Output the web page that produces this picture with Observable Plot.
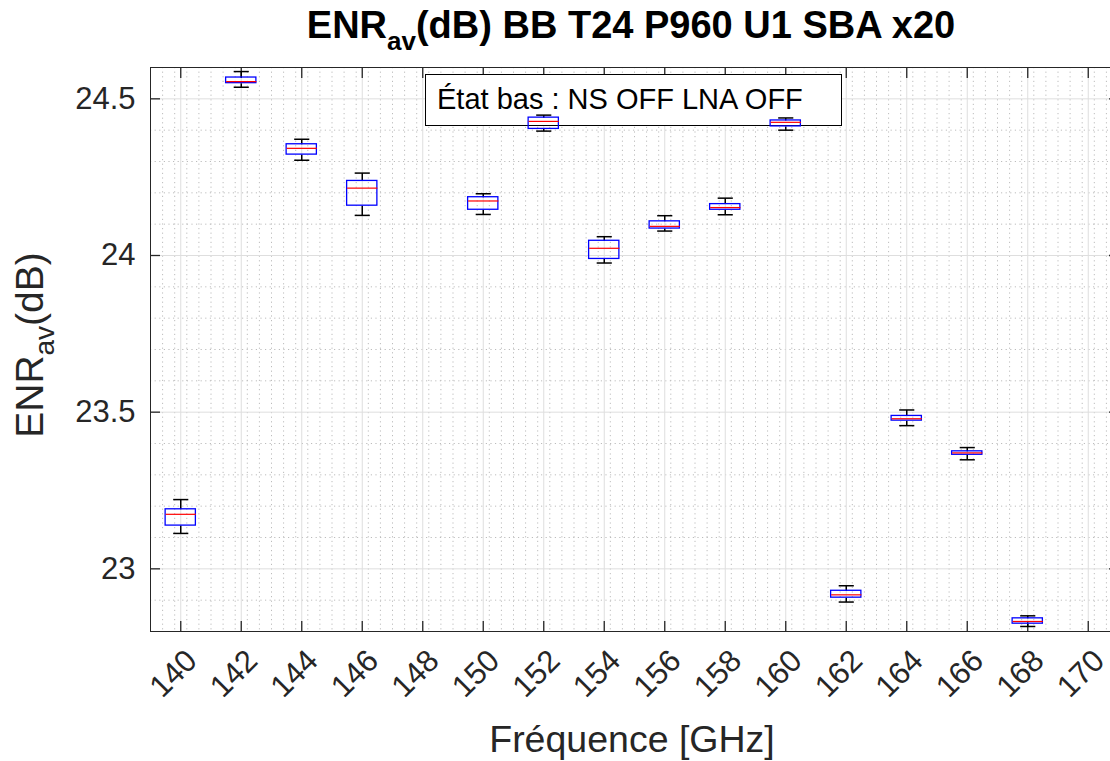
<!DOCTYPE html>
<html>
<head>
<meta charset="utf-8">
<script src="https://cdn.jsdelivr.net/npm/d3@7"></script>
<script src="https://cdn.jsdelivr.net/npm/@observablehq/plot@0.6"></script>
<style>
  html, body { margin: 0; padding: 0; background: #fff; }
  #wrap { position: relative; width: 1110px; height: 761px; overflow: hidden; }
  #wrap svg { max-width: none !important; }
</style>
</head>
<body>
<div id="wrap"></div>
<script>
// ---- data ----
const freq    = [140, 142, 144, 146, 150, 152, 154, 156, 158, 160, 162, 164, 166, 168];
const whiskLo = [23.113, 24.537, 24.304, 24.128, 24.131, 24.397, 23.976, 24.078, 24.130, 24.400, 22.894, 23.457, 23.348, 22.816];
const q1      = [23.138, 24.550, 24.322, 24.159, 24.146, 24.404, 23.989, 24.086, 24.146, 24.412, 22.908, 23.473, 23.364, 22.825];
const median  = [23.174, 24.555, 24.342, 24.215, 24.174, 24.428, 24.023, 24.093, 24.153, 24.425, 22.917, 23.479, 23.370, 22.832];
const q3      = [23.190, 24.568, 24.355, 24.238, 24.186, 24.440, 24.047, 24.109, 24.164, 24.431, 22.930, 23.488, 23.375, 22.842];
const whiskHi = [23.221, 24.587, 24.371, 24.263, 24.197, 24.448, 24.060, 24.127, 24.183, 24.439, 22.946, 23.507, 23.387, 22.850];

const xTicks = [140, 142, 144, 146, 148, 150, 152, 154, 156, 158, 160, 162, 164, 166, 168, 170];
const yTicks = [23, 23.5, 24, 24.5];
const xMinor = d3.range(1, 80).map(i => +(139 + i * 0.4).toFixed(1)).filter(v => v % 2 !== 0);
const yMinor = d3.range(1, 18).map(i => +(22.8 + i * 0.1).toFixed(1)).filter(v => Math.round(v * 10) % 5 !== 0);

const titleMain = "ENR", titleSub = "av", titleRest = "(dB) BB T24 P960 U1 SBA x20";
const yLabelMain = "ENR", yLabelSub = "av", yLabelRest = "(dB)";
const xLabel = "Fréquence [GHz]";
const annotation = "État bas : NS OFF LNA OFF";

const data = freq.map((f, i) => ({f, lo: whiskLo[i], q1: q1[i], med: median[i], q3: q3[i], hi: whiskHi[i]}));

const FONT = '"Liberation Sans", Arial, Helvetica, sans-serif';
const AX = "#262626";
const dot = {stroke: "#bcbcbc", strokeWidth: 1, strokeDasharray: "1.2,3.4"};

const chart = Plot.plot({
  width: 1118, height: 761,
  marginLeft: 150, marginRight: 0, marginTop: 67, marginBottom: 130,
  style: {fontFamily: FONT, background: "white", color: AX, maxWidth: "none"},
  x: {domain: [139, 171], label: null},
  y: {domain: [22.8, 24.6], label: null},
  marks: [
    Plot.ruleY(yMinor, dot),
    Plot.ruleX(xMinor, dot),
    Plot.ruleY(yTicks, {stroke: "#dedede", strokeWidth: 1}),
    Plot.ruleX(xTicks, {stroke: "#dedede", strokeWidth: 1}),
    Plot.frame({stroke: AX, strokeWidth: 1}),
    // inward ticks
    Plot.axisX(xTicks, {anchor: "bottom", tickSize: -10, tickFormat: () => "", label: null, stroke: AX, strokeWidth: 1.3}),
    Plot.axisX(xTicks, {anchor: "top", tickSize: -10, tickFormat: () => "", label: null, stroke: AX, strokeWidth: 1.3}),
    Plot.axisY(yTicks, {anchor: "left", tickSize: -10, tickFormat: () => "", label: null, stroke: AX, strokeWidth: 1.3}),
    Plot.axisY(yTicks, {anchor: "right", tickSize: -10, tickFormat: () => "", label: null, stroke: AX, strokeWidth: 1.3}),
    // tick labels
    Plot.axisX(xTicks, {anchor: "bottom", tickSize: 0, tickPadding: 22, tickRotate: -45, fontSize: 31, dx: 11, dy: 2, label: null, tickFormat: d => String(d), fill: AX}),
    Plot.axisY(yTicks, {anchor: "left", tickSize: 0, tickPadding: 15, fontSize: 31, label: null, tickFormat: d => String(d), fill: AX}),
    // box plots
    Plot.link(data, {x1: "f", x2: "f", y1: "lo", y2: "q1", stroke: "black", strokeWidth: 1.5}),
    Plot.link(data, {x1: "f", x2: "f", y1: "q3", y2: "hi", stroke: "black", strokeWidth: 1.5}),
    Plot.link(data, {x1: d => d.f - 0.25, x2: d => d.f + 0.25, y1: "lo", y2: "lo", stroke: "black", strokeWidth: 1.5}),
    Plot.link(data, {x1: d => d.f - 0.25, x2: d => d.f + 0.25, y1: "hi", y2: "hi", stroke: "black", strokeWidth: 1.5}),
    Plot.rect(data, {x1: d => d.f - 0.5, x2: d => d.f + 0.5, y1: "q1", y2: "q3", fill: "none", stroke: "#0000ff", strokeWidth: 1.3}),
    Plot.link(data, {x1: d => d.f - 0.5, x2: d => d.f + 0.5, y1: "med", y2: "med", stroke: "#ff0000", strokeWidth: 1.2})
  ]
});

const svg = d3.select(chart);

// title
const t = svg.append("text").attr("x", 631).attr("y", 38).attr("text-anchor", "middle")
  .attr("font-family", FONT).attr("font-weight", "bold").attr("font-size", 38).attr("fill", "#000");
t.append("tspan").text(titleMain);
t.append("tspan").attr("font-size", 26).attr("dy", 12).text(titleSub);
t.append("tspan").attr("dy", -12).text(titleRest);

// y label
const yl = svg.append("text").attr("transform", "translate(43,345) rotate(-90)").attr("text-anchor", "middle")
  .attr("font-family", FONT).attr("font-size", 39).attr("fill", AX);
yl.append("tspan").text(yLabelMain);
yl.append("tspan").attr("font-size", 28).attr("dy", 11).text(yLabelSub);
yl.append("tspan").attr("dy", -11).text(yLabelRest);

// x label
svg.append("text").attr("x", 632).attr("y", 752).attr("text-anchor", "middle")
  .attr("font-family", FONT).attr("font-size", 37.5).attr("fill", AX).text(xLabel);

// annotation box, drawn beneath the box plots
const firstBoxMark = chart.querySelector('[aria-label="link"]');
const ann = svg.insert("g", () => firstBoxMark);
ann.append("rect").attr("x", 425.5).attr("y", 74.5).attr("width", 416).attr("height", 51)
  .attr("fill", "white").attr("stroke", "#000").attr("stroke-width", 1);
ann.append("text").attr("x", 437).attr("y", 109).attr("text-anchor", "start").attr("font-family", FONT).attr("font-size", 29)
  .attr("fill", "#000").text(annotation);

document.getElementById("wrap").appendChild(chart);
</script>
</body>
</html>
